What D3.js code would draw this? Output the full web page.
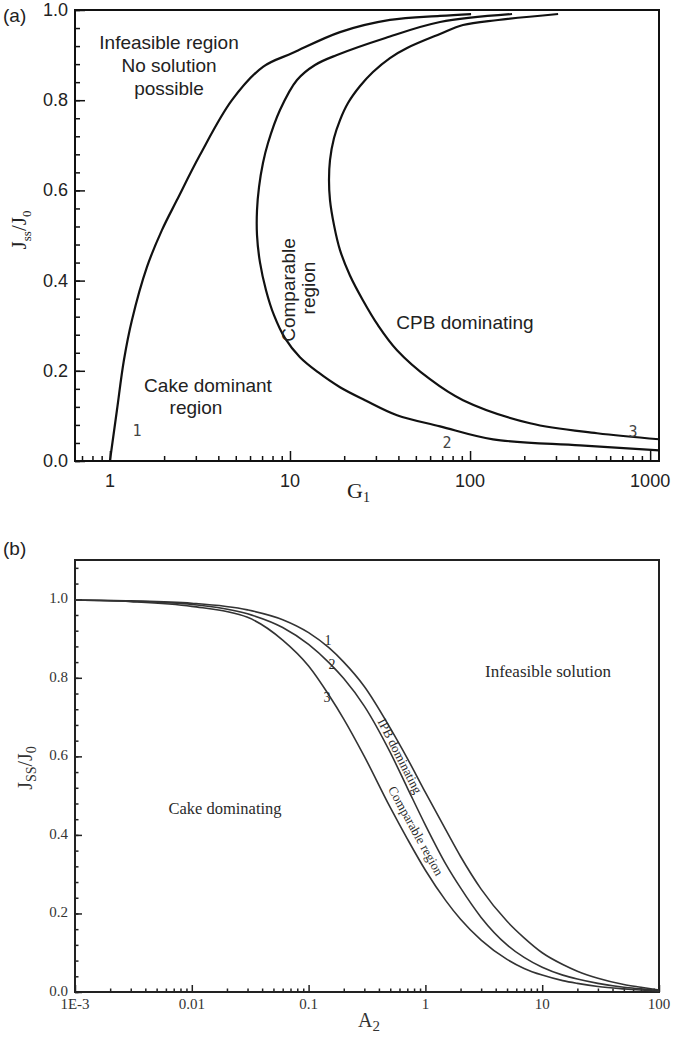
<!DOCTYPE html>
<html><head><meta charset="utf-8">
<script src="https://cdn.jsdelivr.net/npm/d3@7"></script>
<style>body{margin:0;background:#fff}svg{display:block}</style>
</head><body><svg id="c" width="677" height="1040"></svg>
<script>
// ---------- Panel (a) data ----------
const gTicks = [1, 10, 100, 1000];
const gTickLabels = ["1", "10", "100", "1000"];
const jTicksA = [0, 0.2, 0.4, 0.6, 0.8, 1.0];
const jTickLabelsA = ["0.0", "0.2", "0.4", "0.6", "0.8", "1.0"];
const curveA1_G = [1, 1.094, 1.196, 1.325, 1.605, 1.945, 2.356, 3.162, 4.76, 7.08, 10.39, 18.96, 35.9, 68.1, 101.3];
const curveA1_J = [0, 0.1125, 0.2234, 0.3122, 0.4298, 0.5119, 0.5785, 0.6783, 0.8, 0.874, 0.905, 0.951, 0.978, 0.987, 0.991];
const curveA2_G = [1122, 408.4, 134.2, 68.1, 39.3, 26.1, 18.96, 14.31, 11.36, 9.38, 8.15, 7.36, 6.81, 6.56, 6.56, 6.73, 7.08, 7.55, 8.8, 10.94, 13.77, 18.24, 33.9, 68.1, 171.1];
const curveA2_J = [0.0237, 0.0348, 0.0481, 0.0769, 0.1015, 0.1348, 0.1635, 0.1968, 0.2301, 0.2723, 0.3233, 0.3788, 0.4409, 0.5008, 0.5563, 0.6073, 0.6606, 0.705, 0.7782, 0.8448, 0.8781, 0.9003, 0.9380, 0.9734, 0.9911];
const curveA3_G = [1122, 507.7, 215.4, 91.4, 59.9, 39.3, 30.8, 25.4, 21.5, 18.96, 17.56, 16.68, 16.47, 16.68, 17.56, 18.96, 21.0, 24.5, 28.9, 35.9, 44.7, 68.1, 91.4, 143.1, 308.3];
const curveA3_J = [0.0482, 0.0615, 0.0836, 0.1347, 0.1813, 0.2457, 0.3012, 0.3566, 0.412, 0.4675, 0.523, 0.5785, 0.6229, 0.6672, 0.716, 0.756, 0.7937, 0.8314, 0.8625, 0.8935, 0.9157, 0.9468, 0.9667, 0.9778, 0.9911];

// ---------- Panel (b) data ----------
const aTicks = [0.001, 0.01, 0.1, 1, 10, 100];
const aTickLabels = ["1E-3", "0.01", "0.1", "1", "10", "100"];
const jTicksB = [0, 0.2, 0.4, 0.6, 0.8, 1.0];
const jTickLabelsB = ["0.0", "0.2", "0.4", "0.6", "0.8", "1.0"];
const a2Values = [0.001, 0.003, 0.01, 0.03, 0.06, 0.1, 0.15, 0.2, 0.3, 0.5, 0.7, 1, 1.5, 2, 3, 5, 7, 10, 15, 20, 30, 50, 70, 100];
const curveB1 = [0.998, 0.996, 0.99, 0.973, 0.948, 0.915, 0.876, 0.84, 0.778, 0.672, 0.595, 0.508, 0.412, 0.345, 0.262, 0.18, 0.138, 0.1, 0.07, 0.053, 0.035, 0.019, 0.012, 0.005];
const curveB2 = [0.998, 0.995, 0.987, 0.963, 0.928, 0.885, 0.838, 0.798, 0.728, 0.61, 0.52, 0.425, 0.325, 0.265, 0.19, 0.12, 0.088, 0.063, 0.043, 0.033, 0.022, 0.012, 0.008, 0.004];
const curveB3 = [0.998, 0.994, 0.982, 0.954, 0.896, 0.83, 0.755, 0.695, 0.6, 0.47, 0.39, 0.31, 0.232, 0.185, 0.132, 0.083, 0.06, 0.043, 0.029, 0.022, 0.014, 0.008, 0.005, 0.002];

const svg = d3.select("#c");
const SANS = "'Liberation Sans', Arial, sans-serif";
const SERIF = "'Liberation Serif', 'Times New Roman', serif";

function logMinor(domain) {
  const out = [];
  for (let e = -4; e <= 4; e++) {
    for (let k = 2; k <= 9; k++) {
      const v = k * Math.pow(10, e);
      if (v >= domain[0] && v <= domain[1]) out.push(v);
    }
  }
  return out;
}
function linMinor(max, step) {
  const out = [];
  for (let i = 0; i * step <= max + 1e-9; i++) out.push(+(i * step).toFixed(4));
  return out;
}
function ticks(g, axis, tr, color) {
  g.append("g").attr("transform", tr).call(axis)
    .call(s => s.select(".domain").remove())
    .selectAll("line").attr("stroke", color).attr("stroke-width", 1.5);
}

// ================= Panel (a) =================
{
  const x = d3.scaleLog().domain([0.64, 1120]).range([75, 659]);
  const y = d3.scaleLinear().domain([0, 1]).range([461, 10]);
  const g = svg.append("g");
  const c = "#111";
  ticks(g, d3.axisBottom(x).tickValues(logMinor(x.domain())).tickSize(-5).tickFormat(""), "translate(0,461)", c);
  ticks(g, d3.axisBottom(x).tickValues(gTicks).tickSize(-10).tickFormat(""), "translate(0,461)", c);
  ticks(g, d3.axisLeft(y).tickValues(linMinor(1, 0.04)).tickSize(-5).tickFormat(""), "translate(75,0)", c);
  ticks(g, d3.axisLeft(y).tickValues(jTicksA).tickSize(-10).tickFormat(""), "translate(75,0)", c);

  g.append("rect").attr("x", x.range()[0]).attr("y", y.range()[1])
    .attr("width", x.range()[1] - x.range()[0]).attr("height", y.range()[0] - y.range()[1])
    .attr("fill", "none").attr("stroke", c).attr("stroke-width", 2);

  g.selectAll(".xl").data(gTicks).enter().append("text")
    .attr("x", d => x(d)).attr("y", 487).attr("text-anchor", "middle")
    .attr("font-family", SANS).attr("font-size", 18).attr("fill", "#222")
    .text((d, i) => gTickLabels[i]);
  g.selectAll(".yl").data(jTicksA).enter().append("text")
    .attr("x", 68).attr("y", d => y(d) + 6).attr("text-anchor", "end")
    .attr("font-family", SANS).attr("font-size", 18).attr("fill", "#222")
    .text((d, i) => jTickLabelsA[i]);

  const line = d3.line().x(d => x(d[0])).y(d => y(d[1])).curve(d3.curveCatmullRom.alpha(0.5));
  [[curveA1_G, curveA1_J], [curveA2_G, curveA2_J], [curveA3_G, curveA3_J]].forEach(([G, J]) => {
    g.append("path").datum(G.map((v, i) => [v, J[i]]))
      .attr("d", line).attr("fill", "none").attr("stroke", c).attr("stroke-width", 2.2)
      .attr("stroke-linejoin", "round");
  });

  const ann = (t, px, py, rot) => {
    const e = g.append("text").attr("text-anchor", "middle")
      .attr("font-family", SANS).attr("font-size", 19).attr("fill", "#222").text(t);
    if (rot !== undefined) e.attr("transform", `translate(${px},${py}) rotate(${rot})`);
    else e.attr("x", px).attr("y", py);
  };
  ann("Infeasible region", 169, 49);
  ann("No solution", 169, 72);
  ann("possible", 169, 95);
  ann("Cake dominant", 208, 392);
  ann("region", 196, 414);
  ann("CPB dominating", 465, 329);
  ann("Comparable", 295, 290, -90);
  ann("region", 315, 288, -90);
  const num = (t, px, py) => g.append("text").attr("x", px).attr("y", py).attr("text-anchor", "middle")
    .attr("font-family", "'DejaVu Sans Mono', monospace").attr("font-size", 15).attr("fill", "#444").text(t);
  num("1", 137, 436);
  num("2", 447, 448);
  num("3", 633, 437);

  svg.append("text").attr("x", 3).attr("y", 22).attr("font-family", SANS).attr("font-size", 19)
    .attr("fill", "#222").text("(a)");

  const xt = svg.append("text").attr("x", 347).attr("y", 498).attr("font-family", SERIF)
    .attr("font-size", 22).attr("fill", "#222");
  xt.append("tspan").text("G");
  xt.append("tspan").attr("font-size", 14).attr("dy", 4).text("1");
  const yt = svg.append("text").attr("transform", "translate(26,230) rotate(-90)")
    .attr("text-anchor", "middle").attr("font-family", SERIF).attr("font-size", 21).attr("fill", "#222");
  yt.append("tspan").text("J");
  yt.append("tspan").attr("font-size", 13).attr("dy", 5).text("ss");
  yt.append("tspan").attr("dy", -5).text("/J");
  yt.append("tspan").attr("font-size", 13).attr("dy", 5).text("0");
}

// ================= Panel (b) =================
{
  const x = d3.scaleLog().domain([0.001, 100]).range([75, 659]);
  const y = d3.scaleLinear().domain([0, 1.1]).range([992, 560]);
  const g = svg.append("g");
  const c = "#222";
  ticks(g, d3.axisBottom(x).tickValues(logMinor(x.domain())).tickSize(-3.5).tickFormat(""), "translate(0,992)", c);
  ticks(g, d3.axisBottom(x).tickValues(aTicks).tickSize(-7).tickFormat(""), "translate(0,992)", c);
  ticks(g, d3.axisLeft(y).tickValues(linMinor(1.08, 0.04)).tickSize(-3.5).tickFormat(""), "translate(75,0)", c);
  ticks(g, d3.axisLeft(y).tickValues(jTicksB).tickSize(-7).tickFormat(""), "translate(75,0)", c);

  g.append("rect").attr("x", x.range()[0]).attr("y", y.range()[1])
    .attr("width", x.range()[1] - x.range()[0]).attr("height", y.range()[0] - y.range()[1])
    .attr("fill", "none").attr("stroke", c).attr("stroke-width", 2);

  g.selectAll(".xl").data(aTicks).enter().append("text")
    .attr("x", d => x(d)).attr("y", 1009).attr("text-anchor", "middle")
    .attr("font-family", SERIF).attr("font-size", 15).attr("fill", "#333")
    .text((d, i) => aTickLabels[i]);
  g.selectAll(".yl").data(jTicksB).enter().append("text")
    .attr("x", 68).attr("y", d => y(d) + 4).attr("text-anchor", "end")
    .attr("font-family", SERIF).attr("font-size", 15).attr("fill", "#333")
    .text((d, i) => jTickLabelsB[i]);

  const line = d3.line().x(d => x(d[0])).y(d => y(d[1])).curve(d3.curveMonotoneX);
  [curveB1, curveB2, curveB3].forEach(J => {
    g.append("path").datum(a2Values.map((v, i) => [v, J[i]]))
      .attr("d", line).attr("fill", "none").attr("stroke", "#333").attr("stroke-width", 1.6);
  });

  const ann = (t, px, py, size, rot) => {
    const e = g.append("text").attr("text-anchor", "middle")
      .attr("font-family", SERIF).attr("font-size", size).attr("fill", "#2a2a2a").text(t);
    if (rot !== undefined) e.attr("transform", `translate(${px},${py}) rotate(${rot})`);
    else e.attr("x", px).attr("y", py);
  };
  ann("Infeasible solution", 548, 677, 17);
  ann("Cake dominating", 225, 814, 16.5);
  ann("IPB dominating", 396, 758, 13, 63);
  ann("Comparable region", 412, 833, 13, 61);
  ann("1", 328, 645, 14);
  ann("2", 332, 669, 14);
  ann("3", 327, 702, 14);

  svg.append("text").attr("x", 3).attr("y", 555).attr("font-family", SANS).attr("font-size", 19)
    .attr("fill", "#222").text("(b)");

  const xt = svg.append("text").attr("x", 358).attr("y", 1027).attr("font-family", SERIF)
    .attr("font-size", 20).attr("fill", "#333");
  xt.append("tspan").text("A");
  xt.append("tspan").attr("font-size", 15).attr("dy", 4).text("2");
  const yt = svg.append("text").attr("transform", "translate(32,768) rotate(-90)")
    .attr("text-anchor", "middle").attr("font-family", SERIF).attr("font-size", 20).attr("fill", "#333");
  yt.append("tspan").text("J");
  yt.append("tspan").attr("font-size", 14).attr("dy", 4).text("SS");
  yt.append("tspan").attr("dy", -4).text("/J");
  yt.append("tspan").attr("font-size", 14).attr("dy", 4).text("0");
}
</script></body></html>
